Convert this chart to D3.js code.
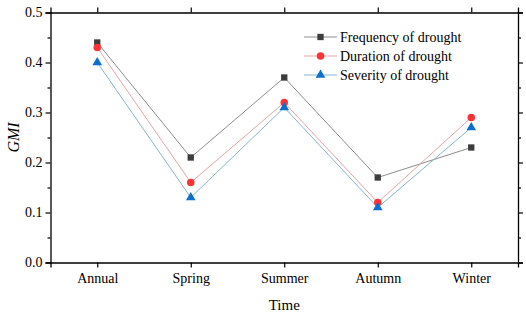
<!DOCTYPE html>
<html><head><meta charset="utf-8">
<script src="https://cdn.jsdelivr.net/npm/d3@7"></script>
<style>body{margin:0;background:#fff}svg{display:block}</style>
</head><body>
<script>
const categories = ["Annual", "Spring", "Summer", "Autumn", "Winter"];
const frequency = [0.44, 0.21, 0.37, 0.17, 0.23];
const duration = [0.43, 0.16, 0.32, 0.12, 0.29];
const severity = [0.40, 0.13, 0.31, 0.11, 0.27];
const seriesNames = ["Frequency of drought", "Duration of drought", "Severity of drought"];
const yTicks = [0.0, 0.1, 0.2, 0.3, 0.4, 0.5];

(function () {
const W = 526, H = 317;
const m = {l: 50.5, r: 8, t: 12.5, b: 54.5};
const svg = d3.select("body").append("svg").attr("width", W).attr("height", H);
const font = "'Liberation Serif','Times New Roman',serif";

const x = d3.scalePoint().domain(categories).range([m.l, W - m.r]).padding(0.5);
const y = d3.scaleLinear().domain([0, 0.5]).range([H - m.b, m.t]);

const series = [
  {name: seriesNames[0], vals: frequency, line: "#8c8c8c", fill: "#3d3d3d", sym: d3.symbolSquare, size: 40},
  {name: seriesNames[1], vals: duration, line: "#eda3a3", fill: "#ff3333", sym: d3.symbolCircle, size: 44},
  {name: seriesNames[2], vals: severity, line: "#86b6cf", fill: "#0b6fd0", sym: d3.symbolTriangle, size: 40}
];

const line = d3.line().x((d, i) => x(categories[i])).y(d => y(d));
series.forEach(s => {
  svg.append("path").attr("d", line(s.vals)).attr("fill", "none")
    .attr("stroke", s.line).attr("stroke-width", 1);
});
series.forEach(s => {
  svg.selectAll(null).data(s.vals).enter().append("path")
    .attr("d", d3.symbol().type(s.sym).size(s.size))
    .attr("transform", (d, i) => `translate(${x(categories[i])},${y(d)})`)
    .attr("fill", s.fill);
});

const minor = d3.range(0.05, 0.5, 0.1);
svg.append("g").attr("transform", `translate(${m.l},0)`)
  .call(d3.axisLeft(y).tickValues(yTicks).tickFormat(d3.format(".1f")).tickSize(5).tickPadding(3));
svg.append("g").attr("transform", `translate(${m.l},0)`)
  .call(d3.axisLeft(y).tickValues(minor).tickFormat("").tickSize(3)).select(".domain").remove();
svg.append("g").attr("transform", `translate(${W - m.r},0)`)
  .call(d3.axisRight(y).tickValues(yTicks).tickFormat("").tickSize(5));
svg.append("g").attr("transform", `translate(${W - m.r},0)`)
  .call(d3.axisRight(y).tickValues(minor).tickFormat("").tickSize(3)).select(".domain").remove();
svg.append("g").attr("transform", `translate(0,${H - m.b})`)
  .call(d3.axisBottom(x).tickSize(5).tickPadding(6));
svg.append("g").attr("transform", `translate(0,${m.t})`)
  .call(d3.axisTop(x).tickSize(5).tickFormat(""));
svg.selectAll(".domain").attr("stroke", "#000").attr("stroke-width", 1.3);
svg.selectAll(".tick line").attr("stroke", "#000").attr("stroke-width", 1.2);
svg.selectAll(".tick text").attr("font-family", font).attr("font-size", 14).attr("fill", "#000");

svg.append("text").attr("x", x("Summer")).attr("y", 310).attr("text-anchor", "middle")
  .attr("font-family", font).attr("font-size", 15).text("Time");
svg.append("text").attr("transform", `translate(19,${(m.t + H - m.b) / 2}) rotate(-90)`)
  .attr("text-anchor", "middle").attr("font-family", font).attr("font-size", 16)
  .attr("font-style", "italic").text("GMI");

const lg = svg.append("g");
series.forEach((s, i) => {
  const yy = 37 + i * 19;
  lg.append("line").attr("x1", 304).attr("x2", 337).attr("y1", yy).attr("y2", yy)
    .attr("stroke", s.line).attr("stroke-width", 1);
  lg.append("path").attr("d", d3.symbol().type(s.sym).size(s.size)())
    .attr("transform", `translate(320.5,${yy})`).attr("fill", s.fill);
  lg.append("text").attr("x", 340).attr("y", yy + 5).attr("font-family", font)
    .attr("font-size", 14).text(s.name);
});
})();
</script>
</body></html>
